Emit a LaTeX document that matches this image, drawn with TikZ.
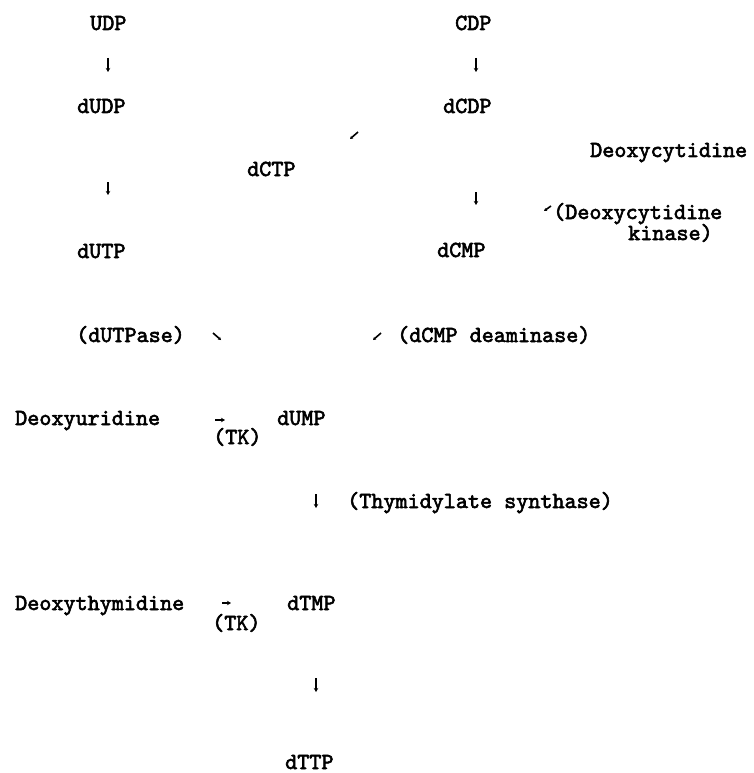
\documentclass[tikz,border=0pt]{standalone}
\usepackage{fontspec}
\newfontfamily\typer[Extension=.otf,FakeBold=2.6]{lmmono10-regular}
\usetikzlibrary{arrows.meta}
\begin{document}
\begin{tikzpicture}[x=1pt,y=-1pt,
  lbl/.style={anchor=base west, inner sep=0pt, font=\fontsize{23}{23}\selectfont\typer},
  minarrow/.style={line width=1.3pt, -{Stealth[length=4pt,width=4.5pt]}},
  ticktip/.style={line width=1.6pt, -{Stealth[length=3pt,width=3.5pt]}}]
\useasboundingbox (0,0) rectangle (753,773);

% compounds and enzyme labels
\node[lbl] (udp)   at (90,30)   {UDP};
\node[lbl] (cdp)   at (455,30)  {CDP};
\node[lbl] (dudp)  at (77,113)  {dUDP};
\node[lbl] (dcdp)  at (443,113) {dCDP};
\node[lbl] (dcyd)  at (590,157) {Deoxycytidine};
\node[lbl] (dctp)  at (247,176) {dCTP};
\node[lbl] (dckA)  at (553,219) {(Deoxycytidine};
\node[lbl] (dckB)  at (628,240) {kinase)};
\node[lbl] (dutp)  at (77,258)  {dUTP};
\node[lbl] (dcmp)  at (437,257) {dCMP};
\node[lbl] (dutpase) at (76,342) {(dUTPase)};
\node[lbl] (dcmpda)  at (397,342) {(dCMP deaminase)};
\node[lbl] (durd)  at (15,425)  {Deoxyuridine};
\node[lbl] (dump)  at (277,425) {dUMP};
\node[lbl] (tkA)   at (213,444) {(TK)};
\node[lbl] (tsyn)  at (347,508) {(Thymidylate synthase)};
\node[lbl] (dthd)  at (15,610)  {Deoxythymidine};
\node[lbl] (dtmp)  at (287,610) {dTMP};
\node[lbl] (tkB)   at (212,630) {(TK)};
\node[lbl] (dttp)  at (285,769) {dTTP};

% end points of the short arrows
\coordinate (u1) at (108,58);  \coordinate (u2) at (108,72);
\coordinate (c1) at (476,58);  \coordinate (c2) at (476,72);
\coordinate (u3) at (108,182); \coordinate (u4) at (108,195);
\coordinate (c3) at (476,192); \coordinate (c4) at (476,205);
\coordinate (k1) at (358,132); \coordinate (k2) at (350,139);
\coordinate (k3) at (551,206); \coordinate (k4) at (544,211);
\coordinate (p1) at (213,333); \coordinate (p2) at (221,340);
\coordinate (d1) at (381,333); \coordinate (d2) at (373,340);
\coordinate (r1) at (215,420); \coordinate (r2) at (225,420);
\coordinate (s1) at (316,494); \coordinate (s2) at (316,508);
\coordinate (t1) at (222,603); \coordinate (t2) at (231,603);
\coordinate (s3) at (316,678); \coordinate (s4) at (316,692);

\draw[minarrow] (u1) -- (u2);
\draw[minarrow] (c1) -- (c2);
\draw[minarrow] (u3) -- (u4);
\draw[minarrow] (c3) -- (c4);
\draw[ticktip] (k1) -- (k2);
\draw[ticktip] (k3) -- (k4);
\draw[ticktip] (p1) -- (p2);
\draw[ticktip] (d1) -- (d2);
\draw[minarrow] (r1) -- (r2);
\draw[minarrow] (s1) -- (s2);
\draw[minarrow] (t1) -- (t2);
\draw[minarrow] (s3) -- (s4);
\end{tikzpicture}
\end{document}
